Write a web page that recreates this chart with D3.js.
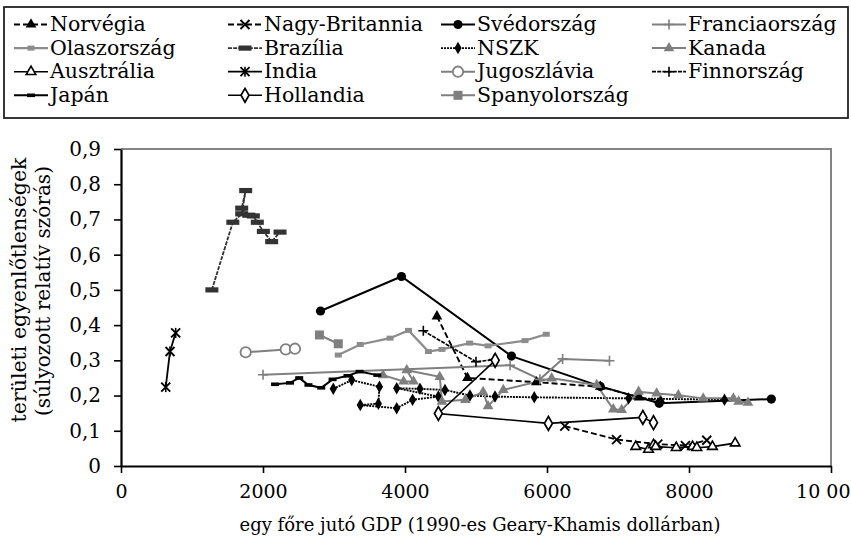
<!DOCTYPE html>
<html lang="hu">
<head>
<meta charset="utf-8">
<title>Területi egyenlőtlenségek és GDP</title>
<script src="https://cdn.jsdelivr.net/npm/d3@7"></script>
<style>
  body { margin: 0; background: #fff; }
  svg { font-family: "DejaVu Serif", serif; }
</style>
</head>
<body>
<div id="chart"></div>
<script>
// [GDP per capita (1990 GK $), weighted coefficient of variation]
var norvegia = [[4450,0.425],[4880,0.25],[5850,0.238],[6750,0.225],[7300,0.195],[7600,0.185]];
var nagyBritannia = [[6250,0.113],[6980,0.075],[7560,0.062],[7950,0.058],[8250,0.073]];
var svedorszag = [[2810,0.44],[3950,0.538],[5500,0.312],[6750,0.226],[7580,0.178],[9160,0.19]];
var franciaorszag = [[2000,0.259],[5480,0.286],[5900,0.246],[6220,0.304],[6880,0.299]];
var olaszorszag = [[3060,0.315],[3370,0.345],[3790,0.363],[4050,0.385],[4330,0.325],[4520,0.331],[4910,0.349],[5170,0.341],[5690,0.356],[5990,0.374]];
var brazilia = [[1280,0.50],[1575,0.692],[1700,0.716],[1756,0.782],[1700,0.732],[1800,0.712],[1864,0.71],[1920,0.692],[2005,0.666],[2122,0.637],[2240,0.664]];
var nszk = [[2990,0.219],[3250,0.244],[3640,0.225],[3625,0.177],[3370,0.173],[3883,0.164],[4107,0.188],[4470,0.197],[3883,0.221],[4211,0.219],[4563,0.216],[4915,0.2],[5268,0.197],[5821,0.195],[7150,0.192],[8500,0.188]];
var kanada = [[3690,0.258],[3980,0.24],[4120,0.24],[4025,0.272],[4490,0.253],[4520,0.183],[4850,0.188],[5100,0.21],[5170,0.17],[5385,0.216],[6065,0.249],[6700,0.23],[6934,0.161],[7052,0.159],[7290,0.211],[7545,0.206],[7850,0.201],[8200,0.192],[8625,0.192],[8700,0.183],[8830,0.18]];
var ausztralia = [[7250,0.055],[7430,0.047],[7500,0.06],[7530,0.055],[7820,0.052],[8050,0.055],[8110,0.052],[8330,0.055],[8650,0.065]];
var india = [[630,0.224],[690,0.325],[770,0.378]];
var jugoszlavia = [[1756,0.323],[2320,0.331],[2450,0.333]];
var finnorszag = [[4258,0.384],[5000,0.296],[5250,0.302]];
var japan = [[2170,0.232],[2380,0.236],[2510,0.25],[2640,0.23],[2820,0.222],[2980,0.246],[3190,0.256],[3360,0.268],[3610,0.258]];
var hollandia = [[5270,0.30],[4470,0.149],[6020,0.121],[7350,0.138],[7500,0.123]];
var spanyolorszag = [[2795,0.372],[3060,0.347]];

var countryNames = ["Norvégia","Nagy-Britannia","Svédország","Franciaország",
                    "Olaszország","Brazília","NSZK","Kanada",
                    "Ausztrália","India","Jugoszlávia","Finnország",
                    "Japán","Hollandia","Spanyolország"];
var countryData = [norvegia, nagyBritannia, svedorszag, franciaorszag,
                   olaszorszag, brazilia, nszk, kanada,
                   ausztralia, india, jugoszlavia, finnorszag,
                   japan, hollandia, spanyolorszag];

var xTicks = [0,2000,4000,6000,8000,10000];
var xTickLabels = ["0","2000","4000","6000","8000","10 00"];
var yTicks = [0,0.1,0.2,0.3,0.4,0.5,0.6,0.7,0.8,0.9];

// line / marker look for each country (same order as countryNames)
var gray = "#7f7f7f";
var styles = [
  {stroke:"#000", dash:"6,3", width:1.9, marker:"tri", color:"#000"},
  {stroke:"#000", dash:"6,3", width:1.9, marker:"x", color:"#000"},
  {stroke:"#000", dash:null, width:2, marker:"dot", color:"#000"},
  {stroke:gray, dash:null, width:2, marker:"plus", color:gray},
  {stroke:"#8c8c8c", dash:null, width:2.2, marker:"sq", color:"#8c8c8c"},
  {stroke:"#333", dash:"4,1.2", width:1.8, marker:"bar", color:"#333"},
  {stroke:"#000", dash:"2,1", width:1.9, marker:"dia", color:"#000"},
  {stroke:gray, dash:null, width:2, marker:"tri", color:gray},
  {stroke:"#000", dash:null, width:1.6, marker:"triO", color:"#000"},
  {stroke:"#000", dash:null, width:1.8, marker:"star", color:"#000"},
  {stroke:gray, dash:null, width:2, marker:"ring", color:gray},
  {stroke:"#000", dash:"4,1.2", width:1.7, marker:"plus", color:"#000"},
  {stroke:"#000", dash:null, width:2, marker:"dash", color:"#000"},
  {stroke:"#000", dash:null, width:1.6, marker:"diaO", color:"#000"},
  {stroke:gray, dash:null, width:2, marker:"sqBig", color:gray}
];

var W = 851, H = 547;
var svg = d3.select("#chart").append("svg")
  .attr("width", W).attr("height", H);

var x = d3.scaleLinear().domain([0, 10000]).range([121, 831]);
var y = d3.scaleLinear().domain([0, 0.9]).range([466, 149]);

function marker(g, type, col) {
  if (type == "tri") {
    g.append("path").attr("d", d3.symbol(d3.symbolTriangle, 50)()).attr("fill", col);
  } else if (type == "triO") {
    g.append("path").attr("d", d3.symbol(d3.symbolTriangle, 40)())
      .attr("fill", "#fff").attr("stroke", col).attr("stroke-width", 1.6);
  } else if (type == "dot") {
    g.append("circle").attr("r", 4.6).attr("fill", col);
  } else if (type == "ring") {
    g.append("circle").attr("r", 5.2).attr("fill", "#fff").attr("stroke", col).attr("stroke-width", 1.8);
  } else if (type == "dia") {
    g.append("path").attr("d", d3.symbol(d3.symbolDiamond, 45)()).attr("fill", col);
  } else if (type == "diaO") {
    g.append("path").attr("d", d3.symbol(d3.symbolDiamond, 55)())
      .attr("fill", "#fff").attr("stroke", col).attr("stroke-width", 1.7);
  } else if (type == "sq") {
    g.append("rect").attr("x", -3.5).attr("y", -2.5).attr("width", 7).attr("height", 5).attr("fill", col);
  } else if (type == "sqBig") {
    g.append("rect").attr("x", -4.5).attr("y", -4.5).attr("width", 9).attr("height", 9).attr("fill", col);
  } else if (type == "bar") {
    g.append("rect").attr("x", -6.5).attr("y", -2.6).attr("width", 13).attr("height", 5.2).attr("fill", col);
  } else if (type == "dash") {
    g.append("rect").attr("x", -4).attr("y", -1.8).attr("width", 8).attr("height", 3.6).attr("fill", col);
  } else if (type == "x" || type == "star") {
    g.append("path").attr("d", "M-4.5,-4.5L4.5,4.5M-4.5,4.5L4.5,-4.5")
      .attr("stroke", col).attr("stroke-width", 1.9);
    if (type == "star") {
      g.append("path").attr("d", "M0,-5L0,5").attr("stroke", col).attr("stroke-width", 1.6);
    }
  } else if (type == "plus") {
    g.append("path").attr("d", "M-5,0L5,0M0,-5L0,5")
      .attr("stroke", col).attr("stroke-width", 1.6);
  }
}

// frame: gray top/right, black left/bottom axes
svg.append("path")
  .attr("d", "M121,149H831V466")
  .attr("fill", "none").attr("stroke", "#858585").attr("stroke-width", 2);

var line = d3.line()
  .x(function(d) { return x(d[0]); })
  .y(function(d) { return y(d[1]); });

var plot = svg.append("g");
countryData.forEach(function(data, i) {
  var s = styles[i];
  plot.append("path")
    .datum(data)
    .attr("fill", "none")
    .attr("stroke", s.stroke)
    .attr("stroke-width", s.width)
    .attr("stroke-dasharray", s.dash)
    .attr("d", line);
});
countryData.forEach(function(data, i) {
  var s = styles[i];
  data.forEach(function(d) {
    var g = plot.append("g").attr("transform", "translate(" + x(d[0]) + "," + y(d[1]) + ")");
    marker(g, s.marker, s.color);
  });
});

// axes
var yAxis = svg.append("g")
  .attr("transform", "translate(121,0)")
  .call(d3.axisLeft(y).tickValues(yTicks).tickSize(7).tickSizeOuter(0).tickPadding(13)
    .tickFormat(function(d) { return d == 0 ? "0" : d3.format(".1f")(d).replace(".", ","); }));
var xAxis = svg.append("g")
  .attr("transform", "translate(0,466)")
  .call(d3.axisBottom(x).tickValues(xTicks).tickSize(7).tickSizeOuter(0).tickPadding(12)
    .tickFormat(function(d, i) { return xTickLabels[i]; }));
[yAxis, xAxis].forEach(function(a) {
  a.select(".domain").attr("stroke", "#000").attr("stroke-width", 2.2);
  a.selectAll(".tick line").attr("stroke", "#000").attr("stroke-width", 1.6);
  a.selectAll("text").attr("font-family", "DejaVu Serif").attr("fill", "#000");
});
yAxis.selectAll("text").attr("font-size", 20);
xAxis.selectAll("text").attr("font-size", 19);
xAxis.selectAll(".tick").filter(function(d) { return d == 10000; })
  .select("text").attr("text-anchor", "end").attr("x", 19);

// axis titles
svg.append("text")
  .attr("x", 480).attr("y", 531)
  .attr("text-anchor", "middle").attr("font-size", 18).attr("fill", "#000")
  .text("egy főre jutó GDP (1990-es Geary-Khamis dollárban)");
svg.append("text")
  .attr("transform", "translate(26,290) rotate(-90)")
  .attr("text-anchor", "middle").attr("font-size", 20.5).attr("fill", "#000")
  .text("területi egyenlőtlenségek");
svg.append("text")
  .attr("transform", "translate(50,291) rotate(-90)")
  .attr("text-anchor", "middle").attr("font-size", 20).attr("fill", "#000")
  .text("(súlyozott relatív szórás)");

// legend
svg.append("rect")
  .attr("x", 4).attr("y", 7).attr("width", 844).attr("height", 111)
  .attr("fill", "none").attr("stroke", "#222").attr("stroke-width", 1.8);
var colX = [14, 228, 441, 652];
countryNames.forEach(function(name, i) {
  var s = styles[i];
  var lx = colX[i % 4], ly = 31 + Math.floor(i / 4) * 23.6;
  var g = svg.append("g").attr("transform", "translate(" + lx + "," + ly + ")");
  g.append("line")
    .attr("x1", 0).attr("x2", 34).attr("y1", -6.5).attr("y2", -6.5)
    .attr("stroke", s.stroke).attr("stroke-width", s.width).attr("stroke-dasharray", s.dash);
  marker(g.append("g").attr("transform", "translate(17,-6.5)"), s.marker, s.color);
  g.append("text").attr("x", 36).attr("y", 0)
    .attr("font-size", 20.5).attr("fill", "#000")
    .text(name);
});
</script>
</body>
</html>
